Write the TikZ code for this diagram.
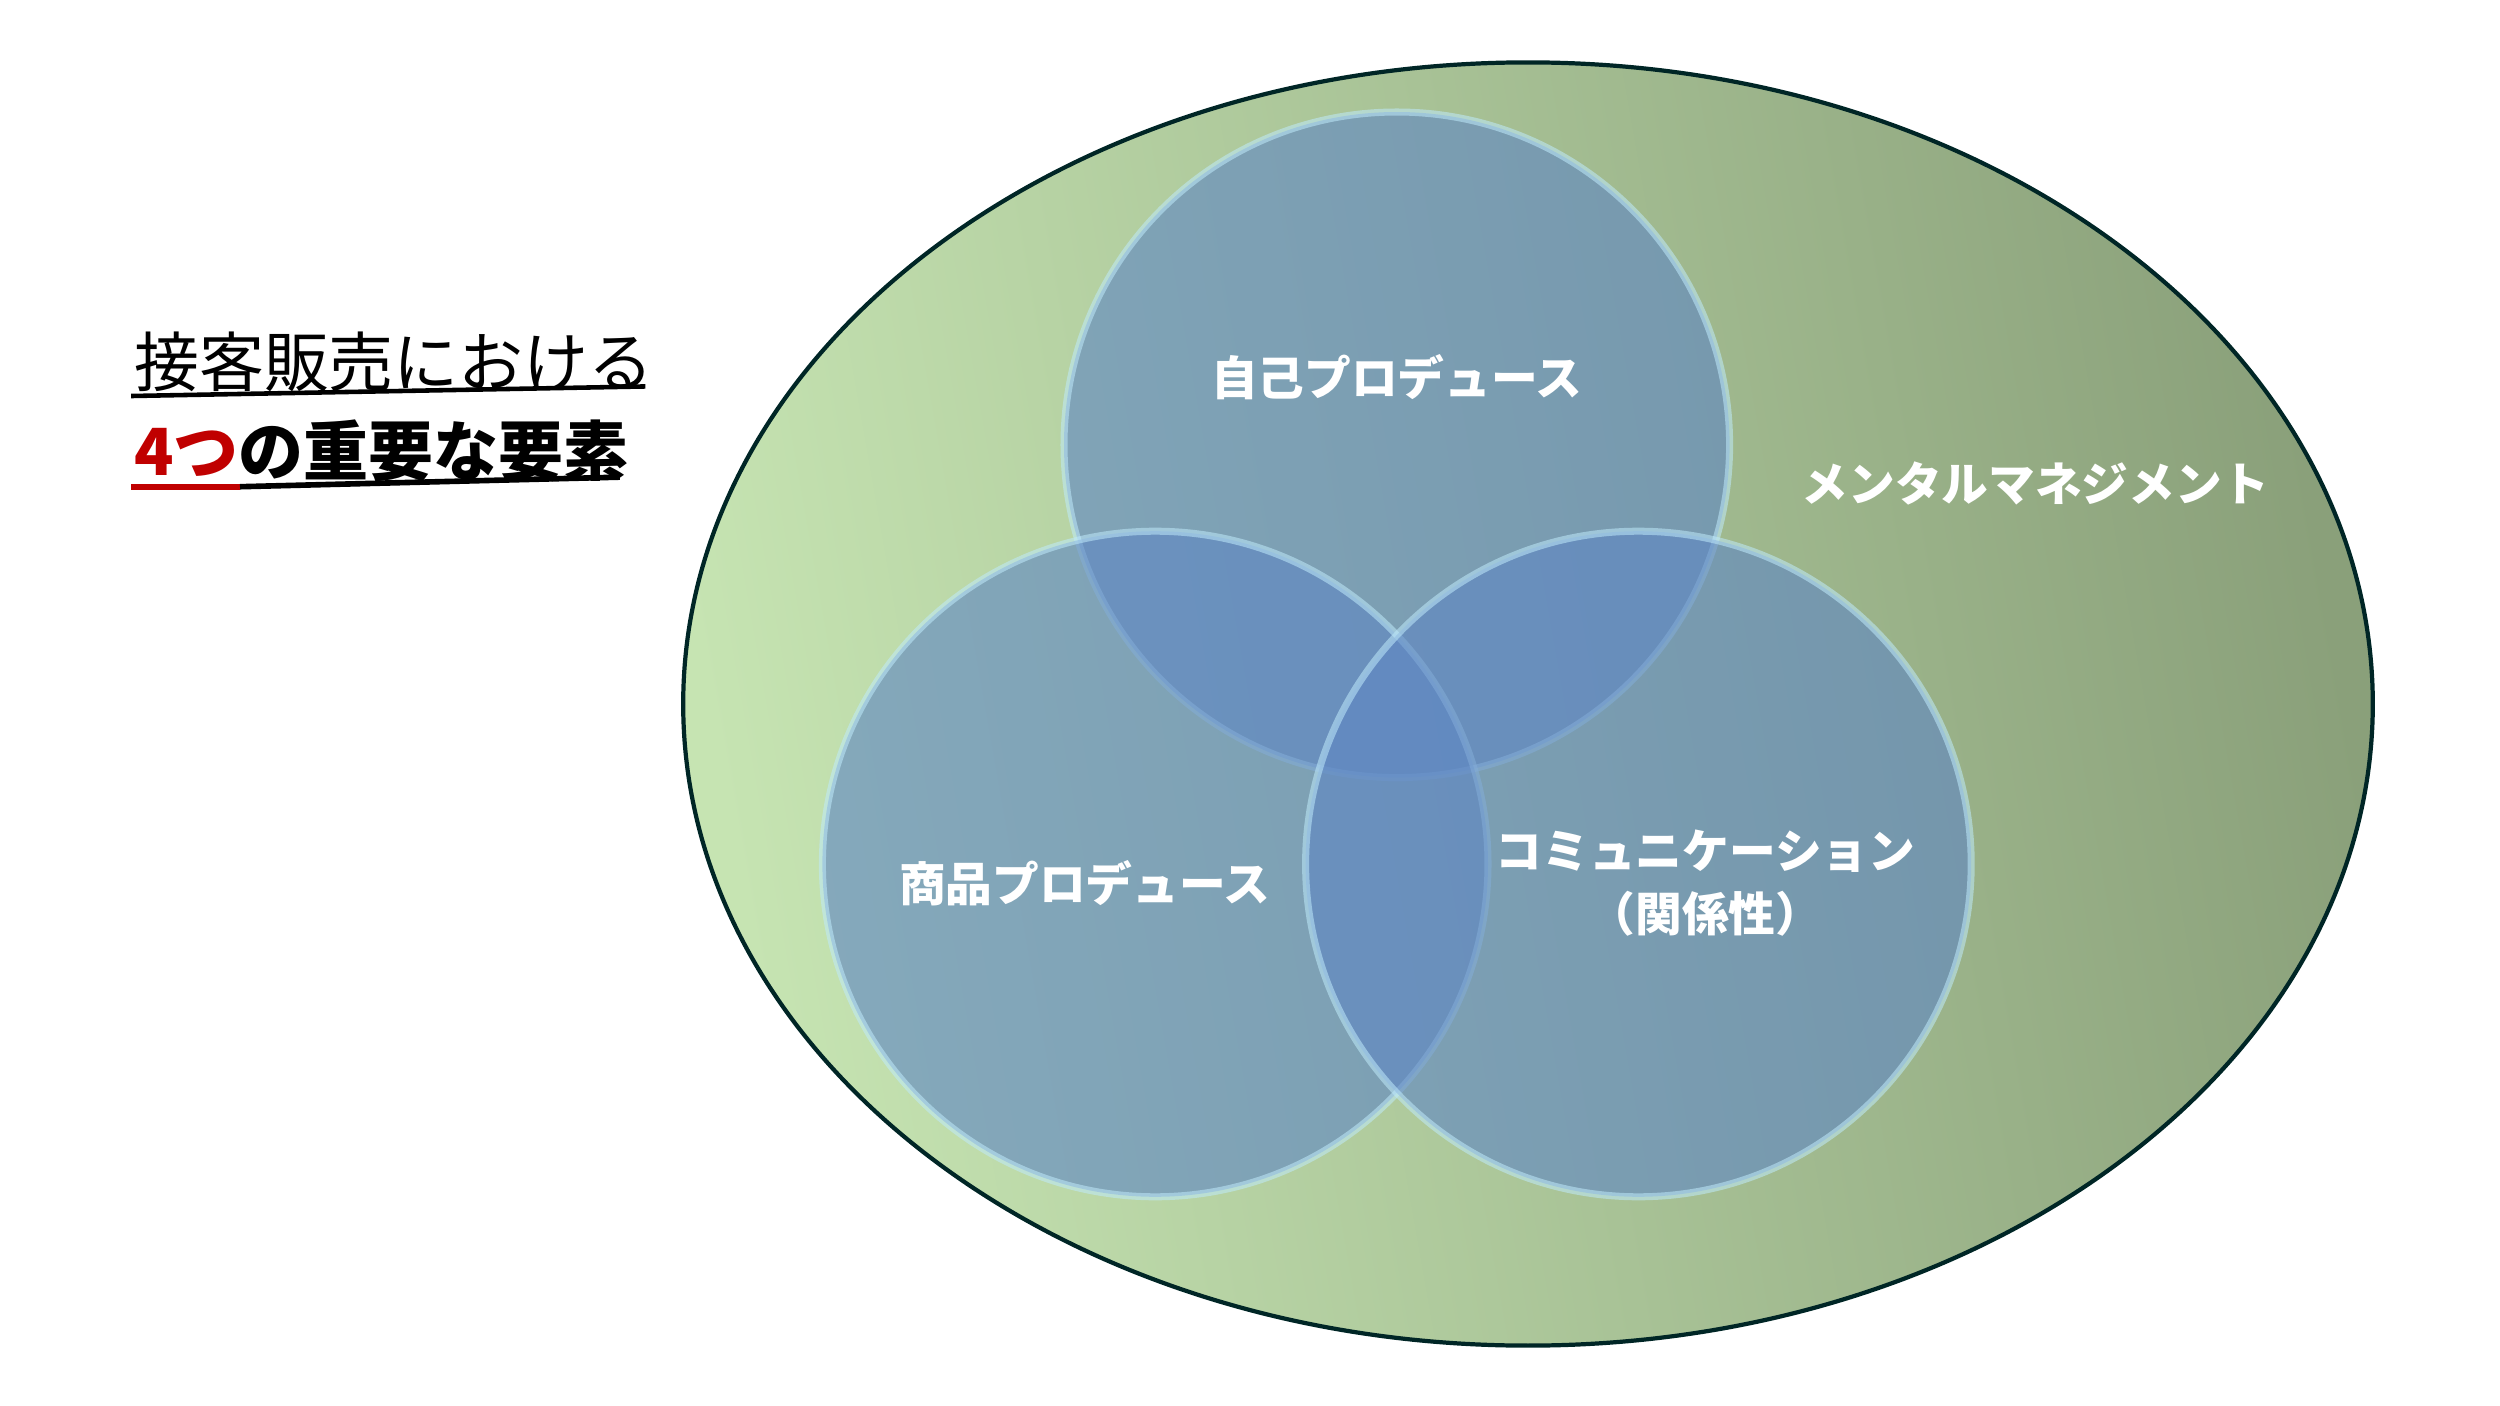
\documentclass[tikz,border=0pt]{standalone}
\usepackage{fontspec}
\newfontfamily\cjk{Noto Sans CJK JP}
\definecolor{ellL}{RGB}{198,228,178}
\definecolor{ellR}{RGB}{138,160,122}
\definecolor{circ}{RGB}{95,135,195}
\definecolor{redt}{RGB}{192,0,0}
\tikzset{
  venn/.style={circle,minimum size=416*0.016cm,fill=circ,fill opacity=0.62,draw=white!75!cyan,draw opacity=0.55,line width=2pt},
  lbl/.style={text=white,font=\cjk\bfseries\fontsize{13.3}{18}\selectfont,align=center,text opacity=1},
}
\begin{document}
\begin{tikzpicture}[x=0.016cm,y=-0.016cm]
\useasboundingbox (0,0) rectangle (1562.5,878.75);
\path[left color=ellL,right color=ellR,shading angle=100,draw=black!70!teal,line width=1.2pt]
  (955,440) ellipse [x radius=528,y radius=401];
\node[venn] (top) at (873,278) {};
\node[venn] (left) at (722,540) {};
\node[venn] (right) at (1024,540) {};
\node[lbl] (t1) at (873,236) {自己プロデュース};
\node[lbl] (t2) at (678,552) {商品プロデュース};
\node[lbl] (t3) at (1066,552) {コミュニケーション\\（関係性）};
\node[lbl] (t4) at (1272,302) {メンタルマネジメント};
\node[anchor=west,font=\cjk\fontsize{18.5}{24}\selectfont] (h1) at (76,226) {接客販売における};
\node[anchor=west,font=\cjk\bfseries\fontsize{18.5}{24}\selectfont] (h2) at (76,282) {\textcolor{redt}{4つ}の重要な要素};
\draw[line width=1.3pt] (h1.south west)++(6,-5) coordinate (u1a) -- ([xshift=-6,yshift=5]h1.south east) coordinate (u1b);
\draw[line width=1.6pt,redt] (h2.south west)++(6,-5) coordinate (u2a) -- ++(68,0) coordinate (u2m);
\draw[line width=1.6pt] (u2m) -- ([xshift=-6,yshift=5]h2.south east) coordinate (u2b);
\end{tikzpicture}
\end{document}
